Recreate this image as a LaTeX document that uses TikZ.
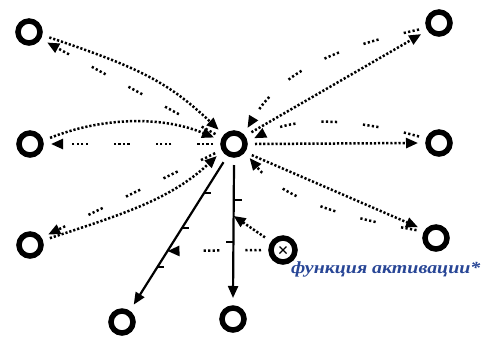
\documentclass[tikz,border=0pt]{standalone}
\usepackage{fontspec}
\newfontfamily\labelfont[FakeStretch=1.17]{Liberation Serif}
\usetikzlibrary{arrows.meta}
\definecolor{labelblue}{RGB}{40,70,150}
\begin{document}
\begin{tikzpicture}[x=1pt,y=-1pt,
  neuron/.style={circle,draw,line width=5.5pt,minimum size=22pt,inner sep=0pt,outer sep=10pt},
  tipstyle/.style={-{Triangle[length=12pt,width=10pt]}},
  dense/.style={line width=2.5pt,dash pattern=on 2.2pt off 1.9pt,tipstyle},
  sparse/.style={line width=2.5pt,dash pattern=on 2.2pt off 2.3pt on 2.2pt off 2.3pt on 2.2pt off 2.3pt on 2.2pt off 26pt,tipstyle},
  solidarrow/.style={line width=2.2pt,tipstyle},
  tickmark/.style={line width=1.8pt}]
\useasboundingbox (0,0) rectangle (485,338);

% neurons
\node[neuron] (C)  at (234,144) {};
\node[neuron] (TL) at (29,32) {};
\node[neuron] (L)  at (30,144) {};
\node[neuron] (BL) at (30,245) {};
\node[neuron] (TR) at (439,23) {};
\node[neuron] (R)  at (439,143) {};
\node[neuron] (BR) at (436,238) {};
\node[neuron] (B1) at (122,322) {};
\node[neuron] (B2) at (233,319) {};
\node[neuron, minimum size=24pt] (X) at (283,250) {};
\draw[line width=1.4pt] (X.center) +(-3.5,-3.5) -- +(3.5,3.5)
                        (X.center) +(-3.5,3.5) -- +(3.5,-3.5);

% left side
\draw[dense]  (TL.-15) .. controls (140,68) and (168,82) .. (C.137);
\draw[sparse] (C.152) -- (TL.-30);
\draw[dense]  (L.17) .. controls (100,118) and (160,115) .. (C.162);
\draw[sparse] (C.180) -- (L.0);
\draw[dense]  (BL.19) .. controls (120,215) and (170,200) .. (C.215);
\draw[sparse] (C.206) -- (BL.30);

% right side
\draw[dense]  (C.34) -- (TR.212);
\draw[sparse] (TR.198) .. controls (350,45) and (285,65) .. (C.50);
\draw[dense]  (C.0) -- (R.180);
\draw[sparse] (R.162) .. controls (360,120) and (300,115) .. (C.16);
\draw[dense]  (C.-32) -- (BR.149);
\draw[sparse] (BR.158) .. controls (330,215) and (280,195) .. (C.-42);

% bottom
\draw[solidarrow] (C.-120) -- (B1.56)
   coordinate[pos=0.217] (p1) coordinate[pos=0.463] (p2)
   coordinate[pos=0.737] (p3) coordinate[pos=0.624] (m1);
\draw[solidarrow] (C.-90) -- (B2.90)
   coordinate[pos=0.263] (q1) coordinate[pos=0.579] (q2)
   coordinate[pos=0.383] (m2);
\draw[tickmark] (p1) -- ++(7,0);
\draw[tickmark] (p2) -- ++(7,0);
\draw[tickmark] (p3) -- ++(7,0);
\draw[tickmark] (q1) -- ++(8,0);
\draw[tickmark] (q2) -- ++(-7,0);

\draw[dense]  (X.145) -- (m2);
\draw[sparse] (X.180) -- (m1);

\node[anchor=west, text=labelblue, inner sep=0pt,
      font=\labelfont\bfseries\itshape\fontsize{17}{17}\selectfont] (lbl) at (291,269) {функция активации*};
\end{tikzpicture}
\end{document}
